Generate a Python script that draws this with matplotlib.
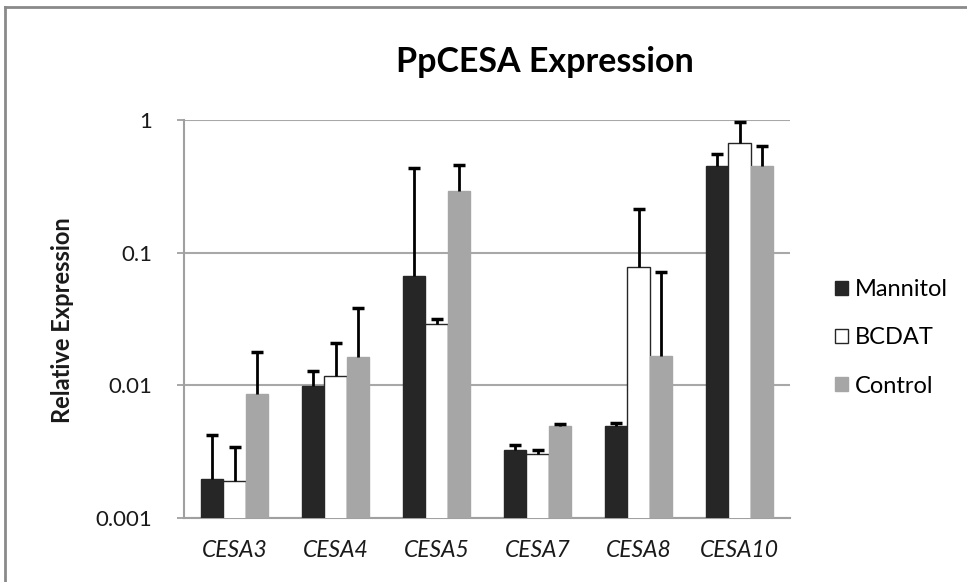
import matplotlib
matplotlib.use("Agg")
import matplotlib.pyplot as plt
import numpy as np
from matplotlib.patches import Patch
from matplotlib.lines import Line2D
from matplotlib.ticker import FixedLocator, NullLocator, FixedFormatter

plt.rcParams['font.family'] = ['Lato', 'DejaVu Sans']

genes = ["CESA3", "CESA4", "CESA5", "CESA7", "CESA8", "CESA10"]
series = ["Mannitol", "BCDAT", "Control"]

mannitol = [0.00196, 0.0099, 0.0663, 0.00327, 0.00491, 0.452]
bcdat = [0.00191, 0.0118, 0.0290, 0.00303, 0.0775, 0.673]
control = [0.00855, 0.0163, 0.291, 0.00491, 0.0166, 0.452]

mannitol_err = [0.00226, 0.0030, 0.370, 0.00026, 0.00026, 0.099]
bcdat_err = [0.00153, 0.0091, 0.0024, 0.00021, 0.1365, 0.297]
control_err = [0.00935, 0.0219, 0.164, 0.00017, 0.0548, 0.188]

y_ticks = [0.001, 0.01, 0.1, 1]
y_tick_labels = ["0.001", "0.01", "0.1", "1"]

fill_colors = ["#262626", "#FFFFFF", "#A6A6A6"]
edge_colors = ["#262626", "#262626", "#A6A6A6"]

fig = plt.figure(figsize=(9.67, 5.82), dpi=100)
ax = fig.add_axes([184 / 967, 1 - 518 / 582, (790 - 184) / 967, (518 - 120) / 582])

x = np.arange(len(genes))
width = 0.218
values = [mannitol, bcdat, control]
errors = [mannitol_err, bcdat_err, control_err]
for i, (vals, errs) in enumerate(zip(values, errors)):
    pos = x + (i - 1) * width
    ax.bar(pos, vals, width=width, color=fill_colors[i], edgecolor=edge_colors[i],
           linewidth=1.0, zorder=3, label=series[i])
    eb = ax.errorbar(pos, vals, yerr=[np.zeros(len(errs)), errs], fmt="none",
                     ecolor="black", elinewidth=2.0, capsize=4.5, capthick=2.5, zorder=4)
    # upper whisker only: hide the cap drawn at the bar top
    eb[1][0].set_visible(False)

ax.set_yscale("log")
ax.set_ylim(0.001, 1)
ax.set_xlim(-0.5, len(genes) - 0.5)
ax.yaxis.set_major_locator(FixedLocator(y_ticks))
ax.yaxis.set_major_formatter(FixedFormatter(y_tick_labels))
ax.yaxis.set_minor_locator(NullLocator())
ax.set_xticks(x)
ax.set_xticklabels(genes, fontstyle="italic", fontsize=16.5, color="#1a1a1a")
ax.tick_params(axis="x", length=0, pad=16)
ax.tick_params(axis="y", length=5, width=1.3, color="#A0A0A0", labelsize=16,
               labelcolor="#1a1a1a", pad=18)

ax.grid(axis="y", color="#A8A8A8", linewidth=1.5, zorder=0)
for side in ["top", "right"]:
    ax.spines[side].set_visible(False)
for side in ["left", "bottom"]:
    ax.spines[side].set_color("#A0A0A0")
    ax.spines[side].set_linewidth(1.5)

fig.text(62 / 967, 1 - 320 / 582, "Relative Expression", rotation=90,
         ha="center", va="center", fontsize=17, fontweight="bold", color="#1a1a1a")
fig.text(545 / 967, 1 - 62 / 582, "PpCESA Expression", ha="center", va="center",
         fontsize=24.5, fontweight="bold", color="black")

handles = [Patch(facecolor=fill_colors[i], edgecolor=edge_colors[i], linewidth=1.0)
           for i in range(3)]
fig.legend(handles, series, loc="center left", bbox_to_anchor=(814 / 967, 1 - 338 / 582),
           frameon=False, fontsize=17, handlelength=0.55, handleheight=0.55,
           handletextpad=0.3, labelspacing=1.15)

# outer frame (top and left edges)
fig.add_artist(Line2D([5 / 967, 1], [1 - 7 / 582, 1 - 7 / 582], color="#8A8A8A",
                      linewidth=2.0, transform=fig.transFigure))
fig.add_artist(Line2D([5 / 967, 5 / 967], [0, 1 - 7 / 582], color="#8A8A8A",
                      linewidth=2.0, transform=fig.transFigure))

fig.savefig("out.png", dpi=100)
